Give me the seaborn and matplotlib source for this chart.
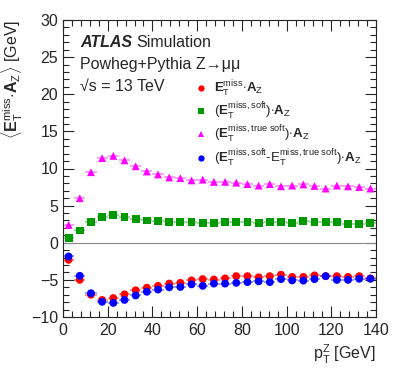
import numpy as np
import pandas as pd
import matplotlib
import matplotlib.pyplot as plt
import seaborn as sns
from matplotlib.ticker import MultipleLocator

matplotlib.use('Agg')

# bin centres of pT^Z (5 GeV bins)
pt_z = np.arange(2.5, 140, 5.0)
half_bin = 2.5

met_az = [-2.3, -5.0, -7.0, -7.7, -7.45, -6.95, -6.4, -6.05, -5.8, -5.5, -5.4, -5.07, -4.9, -4.95,
          -4.8, -4.5, -4.5, -4.65, -4.5, -4.3, -4.6, -4.6, -4.4, -4.5, -4.5, -4.6, -4.5, -4.8]
soft_az = [0.63, 1.65, 2.8, 3.45, 3.7, 3.45, 3.2, 3.0, 2.9, 2.85, 2.75, 2.75, 2.65, 2.65,
           2.8, 2.75, 2.8, 2.65, 2.8, 2.75, 2.65, 2.9, 2.8, 2.8, 2.75, 2.55, 2.55, 2.65]
true_soft_az = [2.4, 6.0, 9.5, 11.4, 11.7, 11.1, 10.3, 9.6, 9.2, 8.8, 8.7, 8.4, 8.5, 8.2,
                8.2, 8.1, 7.9, 7.7, 7.9, 7.6, 7.7, 7.85, 7.65, 7.3, 7.7, 7.6, 7.5, 7.3]
diff_az = [-1.85, -4.45, -6.8, -7.95, -8.1, -7.7, -7.1, -6.6, -6.3, -6.0, -5.95, -5.6, -5.8, -5.5,
           -5.5, -5.4, -5.3, -5.2, -5.3, -4.9, -5.07, -5.1, -4.9, -4.5, -5.0, -5.0, -4.85, -4.85]

labels = [
    r'$\mathbf{E}_{\mathrm{T}}^{\mathrm{miss}}{\cdot}\mathbf{A}_{\mathrm{Z}}$',
    r'$(\mathbf{E}_{\mathrm{T}}^{\mathrm{miss,soft}}){\cdot}\mathbf{A}_{\mathrm{Z}}$',
    r'$(\mathbf{E}_{\mathrm{T}}^{\mathrm{miss,true\ soft}}){\cdot}\mathbf{A}_{\mathrm{Z}}$',
    r'$(\mathbf{E}_{\mathrm{T}}^{\mathrm{miss,soft}}$-$\mathrm{E}_{\mathrm{T}}^{\mathrm{miss,true\ soft}}){\cdot}\mathbf{A}_{\mathrm{Z}}$',
]
colors = ['#ff0000', '#009900', '#ff00ff', '#0000ff']
markers = ['o', 's', '^', 'o']

series = [met_az, soft_az, true_soft_az, diff_az]
df = pd.concat([pd.DataFrame({'pt': pt_z, 'val': v, 'kind': lab})
                for v, lab in zip(series, labels)], ignore_index=True)

sns.set_style('ticks')
plt.rcParams['font.family'] = ['Liberation Sans', 'DejaVu Sans']
plt.rcParams['mathtext.fontset'] = 'custom'
plt.rcParams['mathtext.rm'] = 'Liberation Sans'
plt.rcParams['mathtext.it'] = 'Liberation Sans:italic'
plt.rcParams['mathtext.bf'] = 'Liberation Sans:bold'

fig = plt.figure(figsize=(3.95, 3.79), dpi=100)
ax = fig.add_axes([63 / 395, 62 / 379, 313 / 395, 297 / 379])

ax.axhline(0, color='#888888', lw=0.8, zorder=1)

# horizontal bin-width bars
for v, c in zip(series, colors):
    ax.errorbar(pt_z, v, xerr=half_bin, yerr=0.15, fmt='none', ecolor=c, alpha=0.45,
                elinewidth=1.2, zorder=2)

sns.scatterplot(data=df, x='pt', y='val', hue='kind', style='kind',
                hue_order=labels, style_order=labels,
                palette=dict(zip(labels, colors)), markers=dict(zip(labels, markers)),
                s=32, linewidth=0, ax=ax, zorder=3)

ax.set_xlim(0, 140)
ax.set_ylim(-10, 30)
ax.xaxis.set_major_locator(MultipleLocator(20))
ax.xaxis.set_minor_locator(MultipleLocator(4))
ax.yaxis.set_major_locator(MultipleLocator(5))
ax.yaxis.set_minor_locator(MultipleLocator(1))
ax.tick_params(which='both', direction='in', top=True, right=True, labelsize=11.5, width=0.8)
ax.tick_params(which='major', length=8)
ax.tick_params(which='minor', length=4)
ax.tick_params(axis='x', pad=4)
for s in ax.spines.values():
    s.set_linewidth(0.8)

ax.set_xlabel(r'$\mathrm{p}_{\mathrm{T}}^{\mathrm{Z}}$ [GeV]', loc='right', fontsize=11.5)
ax.set_ylabel(r'$\langle\mathbf{E}_{\mathrm{T}}^{\mathrm{miss}}{\cdot}\mathbf{A}_{\mathrm{Z}}\rangle$ [GeV]',
              loc='top', fontsize=11.5)

ax.text(0.055, 0.925, 'ATLAS', transform=ax.transAxes, fontsize=11.5, fontweight='bold',
        fontstyle='italic', va='center')
ax.text(0.235, 0.925, 'Simulation', transform=ax.transAxes, fontsize=11.5, va='center')
ax.text(0.055, 0.85, 'Powheg+Pythia Z\u2192\u03bc\u03bc', transform=ax.transAxes,
        fontsize=11.5, va='center')
ax.text(0.055, 0.775, '\u221as = 13 TeV', transform=ax.transAxes,
        fontsize=11.5, va='center')

leg = ax.legend(loc='upper left', bbox_to_anchor=(0.395, 0.825), frameon=False,
                fontsize=9.5, handletextpad=0.35, handlelength=1.2, labelspacing=0.17,
                borderpad=0, markerscale=0.8, title=None)

fig.savefig('out.png', dpi=100)
plt.close(fig)
